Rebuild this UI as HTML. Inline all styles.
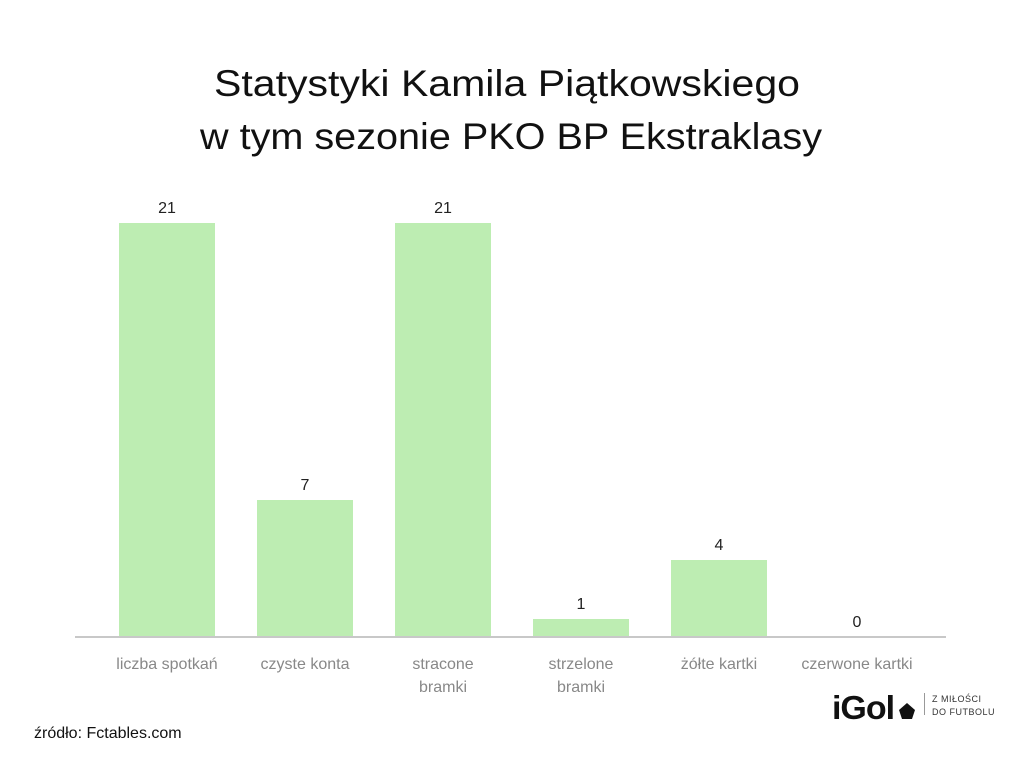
<!DOCTYPE html>
<html><head><meta charset="utf-8"><style>
body{margin:0;background:#fff;width:1024px;height:768px;overflow:hidden;font-family:"Liberation Sans",sans-serif}
</style></head><body>
<svg width="1024" height="768" xmlns="http://www.w3.org/2000/svg" font-family="Liberation Sans, sans-serif">
<text x="507" y="96" text-anchor="middle" font-size="37" fill="#111" textLength="586" lengthAdjust="spacingAndGlyphs">Statystyki Kamila Piątkowskiego</text>
<text x="511" y="149" text-anchor="middle" font-size="37" fill="#111" textLength="622" lengthAdjust="spacingAndGlyphs">w tym sezonie PKO BP Ekstraklasy</text>
<g fill="#bdedb2">
<rect x="119" y="223" width="96" height="414"/>
<rect x="257" y="500" width="96" height="137"/>
<rect x="395" y="223" width="96" height="414"/>
<rect x="533" y="619" width="96" height="18"/>
<rect x="671" y="560" width="96" height="77"/>
</g>
<rect x="75" y="636" width="871" height="2" fill="#c8c8c8"/>
<g font-size="16" fill="#222" text-anchor="middle">
<text x="167" y="213">21</text><text x="305" y="490">7</text><text x="443" y="213">21</text>
<text x="581" y="609">1</text><text x="719" y="550">4</text><text x="857" y="627">0</text>
</g>
<g font-size="16" fill="#888" text-anchor="middle">
<text x="167" y="669">liczba spotkań</text><text x="305" y="669">czyste konta</text>
<text x="443" y="669">stracone</text><text x="443" y="692">bramki</text>
<text x="581" y="669">strzelone</text><text x="581" y="692">bramki</text>
<text x="719" y="669">żółte kartki</text><text x="857" y="669">czerwone kartki</text>
</g>
<text x="34" y="738" font-size="16" fill="#111">źródło: Fctables.com</text>
<text x="832" y="719" font-size="33" font-weight="bold" fill="#111" letter-spacing="-1" textLength="62" lengthAdjust="spacingAndGlyphs">iGol</text>
<polygon points="899,710 907,703 915,710 912,719 902,719" fill="#111"/>
<rect x="924" y="693" width="1" height="22" fill="#999"/>
<text x="932" y="702" font-size="9" fill="#333" letter-spacing="0.5">Z MIŁOŚCI</text>
<text x="932" y="715" font-size="9" fill="#333" letter-spacing="0.5">DO FUTBOLU</text>
</svg>
</body></html>
